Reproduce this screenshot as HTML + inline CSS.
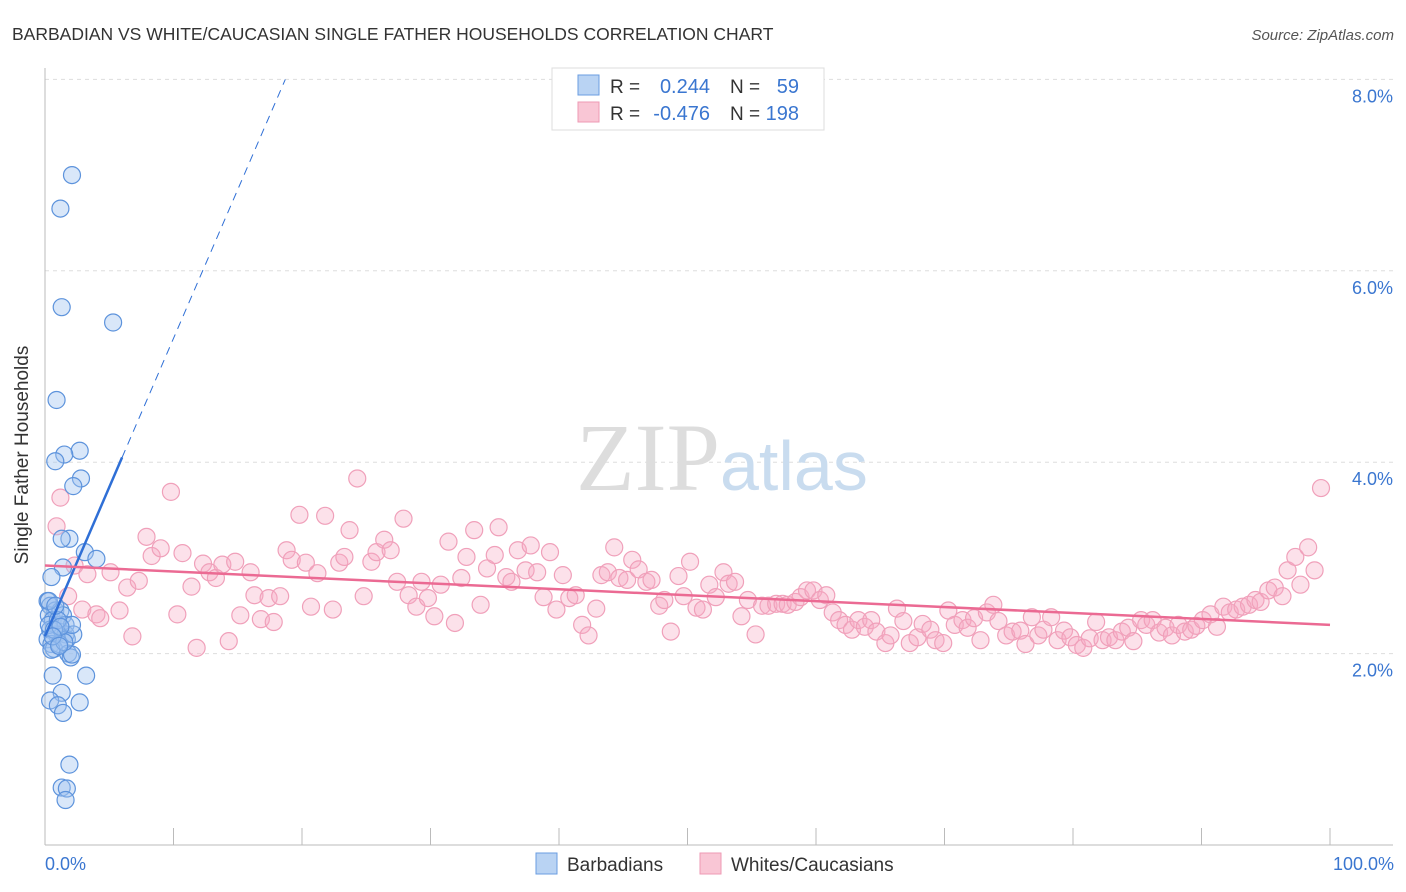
<!DOCTYPE html>
<html><head><meta charset="utf-8"><style>
body{margin:0;background:#fff;font-family:"Liberation Sans",sans-serif}
svg{display:block}
</style></head><body>
<svg width="1406" height="892" xmlns="http://www.w3.org/2000/svg">
<text x="12" y="40" font-size="17.5" fill="#333">BARBADIAN VS WHITE/CAUCASIAN SINGLE FATHER HOUSEHOLDS CORRELATION CHART</text>
<text x="1394" y="40" font-size="15" fill="#555" text-anchor="end" font-style="italic">Source: ZipAtlas.com</text>
<g id="grid"></g>
<text x="720" y="490" font-size="96" fill="#ddd" text-anchor="end" font-family="Liberation Serif,serif">ZIP</text>
<text x="720" y="490" font-size="70" fill="#c9dcef">atlas</text>
<g id="pts"></g>
<g id="lines"></g>
<text x="28" y="455" font-size="19" fill="#333" text-anchor="middle" transform="rotate(-90 28 455)">Single Father Households</text>
<text x="45" y="870" font-size="18" fill="#3a76d0">0.0%</text>
<text x="1394" y="870" font-size="18" fill="#3a76d0" text-anchor="end">100.0%</text>
<g>
<rect x="552" y="68" width="272" height="62" fill="#fff" stroke="#ddd"/>
<rect x="578" y="75" width="21" height="20" fill="#b9d3f3" stroke="#6a9de0"/>
<rect x="578" y="102" width="21" height="20" fill="#f9c6d5" stroke="#ee9ab4"/>
<text x="610" y="93" font-size="19" fill="#333">R =</text><text x="710" y="93" font-size="20" fill="#3a76d0" text-anchor="end">0.244</text>
<text x="730" y="93" font-size="19" fill="#333">N =</text><text x="799" y="93" font-size="20" fill="#3a76d0" text-anchor="end">59</text>
<text x="610" y="120" font-size="19" fill="#333">R =</text><text x="710" y="120" font-size="20" fill="#3a76d0" text-anchor="end">-0.476</text>
<text x="730" y="120" font-size="19" fill="#333">N =</text><text x="799" y="120" font-size="20" fill="#3a76d0" text-anchor="end">198</text>
</g>
<g>
<rect x="536" y="853" width="21" height="21" fill="#b9d3f3" stroke="#6a9de0"/>
<text x="567" y="871" font-size="19" fill="#333">Barbadians</text>
<rect x="700" y="853" width="21" height="21" fill="#f9c6d5" stroke="#ee9ab4"/>
<text x="731" y="871" font-size="19" fill="#333">Whites/Caucasians</text>
</g>
</svg>
<script>
const yTicks=[2,4,6,8];
const yTickLabels=["2.0%","4.0%","6.0%","8.0%"];
const blueX=[2.1,1.2,1.3,5.3,0.9,2.7,1.5,0.8,2.8,2.2,1.9,1.3,3.1,4.0,1.4,0.5,0.2,0.4,0.8,0.3,0.6,1.0,1.2,1.4,1.6,0.4,0.9,1.6,1.7,0.2,0.5,0.7,1.1,1.8,2.2,2.1,0.5,2.0,2.1,0.3,1.0,1.5,0.7,3.2,0.6,1.3,2.7,0.4,1.0,1.4,1.9,1.3,1.7,1.6,0.3,0.8,1.2,0.6,1.1];
const blueY=[7.0,6.65,5.62,5.46,4.65,4.12,4.08,4.01,3.83,3.75,3.2,3.2,3.06,2.99,2.9,2.8,2.55,2.5,2.45,2.4,2.35,2.3,2.45,2.4,2.3,2.25,2.2,2.2,2.15,2.15,2.1,2.05,2.1,2.0,2.2,2.3,2.04,1.96,1.99,2.3,2.35,2.12,2.25,1.77,1.77,1.59,1.49,1.51,1.46,1.38,0.84,0.6,0.59,0.47,2.55,2.5,2.28,2.18,2.08];
const pinkX=[1.2,0.9,1.8,2.3,3.3,2.9,4,4.3,5.1,5.8,6.4,6.8,7.3,7.9,8.3,9,9.8,10.3,10.7,11.4,11.8,12.3,12.8,13.3,13.8,14.3,14.8,15.2,16,16.3,16.8,17.4,17.8,18.3,18.8,19.2,19.8,20.3,20.7,21.2,21.8,22.4,22.9,23.3,23.7,24.3,24.8,25.4,25.8,26.4,26.9,27.4,27.9,28.3,28.9,29.3,29.8,30.3,30.8,31.4,31.9,32.4,32.8,33.4,33.9,34.4,35,35.3,35.9,36.3,36.8,37.4,37.8,38.3,38.8,39.3,39.8,40.3,40.8,41.3,41.8,42.3,42.9,43.3,43.8,44.3,44.7,45.3,45.7,46.2,46.8,47.2,47.8,48.2,48.7,49.3,49.7,50.2,50.7,51.2,51.7,52.2,52.8,53.2,53.7,54.2,54.7,55.3,55.8,56.3,56.9,57.4,57.8,58.4,58.8,59.3,59.8,60.3,60.8,61.3,61.8,62.3,62.8,63.3,63.8,64.3,64.7,65.4,65.8,66.3,66.8,67.3,67.9,68.3,68.9,69.3,69.9,70.3,70.8,71.4,71.8,72.3,72.8,73.3,73.8,74.2,74.8,75.3,75.9,76.3,76.8,77.3,77.7,78.3,78.8,79.3,79.8,80.3,80.8,81.3,81.8,82.3,82.8,83.3,83.8,84.3,84.7,85.3,85.7,86.2,86.7,87.2,87.7,88.2,88.7,89.2,89.6,90.1,90.7,91.2,91.7,92.2,92.7,93.2,93.7,94.2,94.6,95.2,95.7,96.3,96.7,97.3,97.7,98.3,98.8,99.3];
const pinkY=[3.63,3.33,2.6,2.92,2.83,2.46,2.41,2.37,2.85,2.45,2.69,2.18,2.76,3.22,3.02,3.1,3.69,2.41,3.05,2.7,2.06,2.94,2.85,2.79,2.93,2.13,2.96,2.4,2.85,2.61,2.36,2.58,2.33,2.6,3.08,2.98,3.45,2.95,2.49,2.84,3.44,2.46,2.95,3.01,3.29,3.83,2.6,2.96,3.06,3.19,3.08,2.75,3.41,2.61,2.49,2.75,2.58,2.39,2.72,3.17,2.32,2.79,3.01,3.29,2.51,2.89,3.03,3.32,2.8,2.75,3.08,2.87,3.13,2.85,2.59,3.06,2.46,2.82,2.58,2.61,2.3,2.19,2.47,2.82,2.85,3.11,2.79,2.77,2.98,2.88,2.75,2.77,2.5,2.56,2.23,2.81,2.6,2.96,2.48,2.46,2.72,2.59,2.85,2.73,2.75,2.39,2.56,2.2,2.5,2.5,2.52,2.52,2.51,2.54,2.59,2.66,2.66,2.56,2.61,2.43,2.35,2.3,2.25,2.35,2.28,2.35,2.23,2.11,2.19,2.47,2.34,2.11,2.17,2.31,2.25,2.14,2.11,2.45,2.3,2.35,2.27,2.37,2.14,2.43,2.51,2.34,2.19,2.23,2.24,2.1,2.38,2.19,2.25,2.38,2.14,2.24,2.17,2.09,2.06,2.16,2.33,2.14,2.17,2.14,2.23,2.27,2.13,2.35,2.3,2.35,2.22,2.27,2.19,2.3,2.23,2.25,2.29,2.35,2.41,2.28,2.49,2.43,2.46,2.49,2.51,2.56,2.54,2.66,2.69,2.6,2.87,3.01,2.72,3.11,2.87,3.73];
const blueTrend=[[0,2.18],[6,4.05],[18.7,8.0]];
const pinkTrend=[[0,2.92],[100,2.3]];
const NS="http://www.w3.org/2000/svg";
const sx=v=>45+v*12.85, sy=v=>845-v*95.7;
function mk(t,a,p){const e=document.createElementNS(NS,t);for(const k in a)e.setAttribute(k,a[k]);p.appendChild(e);return e;}
const g=document.getElementById('grid');
yTicks.forEach((t,i)=>{
 const l=mk('line',{x1:45,x2:1393,y1:sy(t),y2:sy(t),stroke:'#ddd','stroke-dasharray':'4,4'},g);
 
 
 const tx=mk('text',{x:1393,y:sy(t)+23,'font-size':18,fill:'#3a76d0','text-anchor':'end'},g);
 tx.textContent=yTickLabels[i];
 
 
});
const ax=mk('line',{x1:45,x2:45,y1:68,y2:845,stroke:'#bbb'},g);


const bx=mk('line',{x1:45,x2:1393,y1:845,y2:845,stroke:'#bbb'},g);


for(let i=0;i<=10;i++){const tk=mk('line',{x1:sx(i*10),x2:sx(i*10),y1:828,y2:845,stroke:'#bbb'},g);
 
 }
const p=document.getElementById('pts');
pinkX.forEach((x,i)=>{const c=mk('circle',{cx:sx(x),cy:sy(pinkY[i]),r:8.5,fill:'rgba(246,170,195,0.35)',stroke:'#f0a0ba','stroke-width':1.2},p);
 
 });
blueX.forEach((x,i)=>{const c=mk('circle',{cx:sx(x),cy:sy(blueY[i]),r:8.5,fill:'rgba(160,196,240,0.4)',stroke:'#5d93dc','stroke-width':1.2},p);
 
 });
const L=document.getElementById('lines');
const b1=mk('line',{x1:sx(blueTrend[0][0]),y1:sy(blueTrend[0][1]),x2:sx(blueTrend[1][0]),y2:sy(blueTrend[1][1]),stroke:'#2f6fd6','stroke-width':2.5},L);


const b2=mk('line',{x1:sx(blueTrend[1][0]),y1:sy(blueTrend[1][1]),x2:sx(blueTrend[2][0]),y2:sy(blueTrend[2][1]),stroke:'#2f6fd6','stroke-width':1,'stroke-dasharray':'8,6'},L);


const p1=mk('line',{x1:sx(pinkTrend[0][0]),y1:sy(pinkTrend[0][1]),x2:sx(pinkTrend[1][0]),y2:sy(pinkTrend[1][1]),stroke:'#eb6a93','stroke-width':2.5},L);


</script>
</body></html>
